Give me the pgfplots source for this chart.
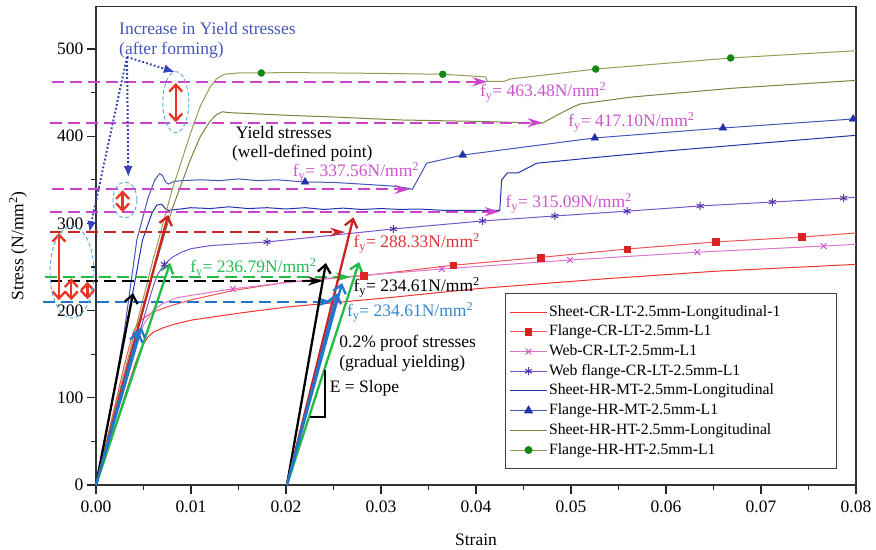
\documentclass[border=0pt]{standalone}
\usepackage{pgfplots}
\pgfplotsset{compat=1.18}
\usepackage{fontspec}
\setmainfont{Liberation Serif}
\usetikzlibrary{arrows.meta}

\definecolor{cSCR}{HTML}{EE3333}
\definecolor{cFCR}{HTML}{EE5555}
\definecolor{mFCR}{HTML}{DD2222}
\definecolor{cWCR}{HTML}{DD77CC}
\definecolor{mWCR}{HTML}{CC55CC}
\definecolor{cWF}{HTML}{7755CC}
\definecolor{mWF}{HTML}{5533AA}
\definecolor{cSMT}{HTML}{2233AA}
\definecolor{cFMT}{HTML}{4455BB}
\definecolor{mFMT}{HTML}{2233AA}
\definecolor{cSHT}{HTML}{808040}
\definecolor{cFHT}{HTML}{999955}
\definecolor{mFHT}{HTML}{118811}
\definecolor{aMag}{HTML}{CC44CC}
\definecolor{tMag}{HTML}{CC55CC}
\definecolor{aRed}{HTML}{CC2222}
\definecolor{tRed}{HTML}{DD3333}
\definecolor{aGrn}{HTML}{22BB44}
\definecolor{tGrn}{HTML}{22BB55}
\definecolor{aBlu}{HTML}{2277CC}
\definecolor{tBlu}{HTML}{3388CC}
\definecolor{aEll}{HTML}{55AADD}
\definecolor{aArr}{HTML}{EE3322}
\definecolor{aDot}{HTML}{3344BB}
\definecolor{aTxt}{HTML}{4455BB}

\newcommand\fa{\fontsize{17.5}{21}\selectfont}
\newcommand\fl{\fontsize{15.7}{18}\selectfont}

\tikzset{
  dashA/.style={line width=2pt, dash pattern=on 12pt off 6pt, -{Stealth[length=15pt,width=9pt,inset=5pt]}},
  arrV/.style={line width=2.3pt, -{Straight Barb[length=8pt,width=13pt]}},
  dbl/.style={aArr, line width=2.3pt, {Straight Barb[length=7pt,width=13pt]}-{Straight Barb[length=7pt,width=13pt]}},
  ell/.style={aEll, line width=0.9pt, dash pattern=on 4pt off 2.5pt},
  dotA/.style={aDot, line width=2pt, dash pattern=on 1.8pt off 2.2pt, -{Latex[length=11pt,width=9pt]}},
  lab/.style={anchor=west, inner sep=0pt, font=\fa},
}

\begin{document}
\begin{tikzpicture}
\begin{axis}[
  name=ax, at={(0pt,0pt)}, anchor=south west,
  scale only axis, width=760pt, height=478.3pt,
  xmin=0, xmax=0.08, ymin=0, ymax=548.5,
  clip=false,
  xtick={0,0.01,0.02,0.03,0.04,0.05,0.06,0.07,0.08},
  ytick={0,100,200,300,400,500},
  minor x tick num=1, minor y tick num=1,
  scaled x ticks=false,
  xticklabel style={yshift=-3pt, /pgf/number format/.cd, fixed, fixed zerofill, precision=2},
  /pgf/number format/assume math mode=true,
  tick label style={font=\fa, black},
  tick align=outside, tick pos=left,
  major tick length=9pt, minor tick length=5pt,
  tick style={line width=1.2pt, black!85},
  axis line style={line width=1.4pt, black!80},
  xlabel={Strain}, ylabel={Stress (N/mm\textsuperscript{2})},
  label style={font=\fa},
  xlabel style={at={(axis description cs:0.5,0)}, anchor=center, yshift=-55pt},
  ylabel style={at={([xshift=-78pt]axis description cs:0,0.5)}, anchor=center},
  legend image code/.code={\draw[mark repeat=2,mark phase=2] plot coordinates {(0pt,0pt)(18.5pt,0pt)(37pt,0pt)};},
  legend style={at={(1,0)}, anchor=south east, xshift=-19pt, yshift=16pt,
    draw=black!75, line width=0.9pt, fill=white, font=\fl,
    inner xsep=4pt, inner ysep=9pt, row sep=0.7pt,
    nodes={inner sep=1.5pt, text height=12pt, text depth=4pt},
    cells={anchor=west}},
]

% Sheet-CR-LT
\addplot[cSCR, line width=1pt] coordinates {
(0,0)(0.0007,22)(0.001,31)(0.002,66)(0.003,101)(0.004,135)(0.0045,150)(0.005,162)(0.0055,170)(0.006,175)(0.007,180)(0.0081,184)(0.010,189)(0.015,197)(0.020,204)(0.025,209)(0.031,215)(0.040,225)(0.053,236)(0.065,245)(0.080,253)};
\addlegendentry{\makebox[282pt][l]{Sheet-CR-LT-2.5mm-Longitudinal-1}}

% Flange-CR-LT
\addplot[cFCR, line width=1pt, forget plot] coordinates {
(0,0)(0.001,45)(0.002,92)(0.003,138)(0.0036,163)(0.004,177)(0.0045,187)(0.0055,195)(0.0064,200)(0.008,206)(0.0099,212)(0.0144,223)(0.0204,233)(0.0282,240)(0.0376,252)(0.0468,261)(0.0559,270.6)(0.0652,278.7)(0.0743,284.4)(0.08,289)};
\addplot[only marks, mark=square*, mark size=3.3pt, color=mFCR,
  legend image code/.code={\draw[cFCR,line width=1pt] (0pt,0pt)--(37pt,0pt); \draw[mFCR] plot[mark=square*, mark size=3.3pt] coordinates {(18.5pt,0pt)};}]
 coordinates {(0.0282,240)(0.0376,252)(0.0468,261)(0.0559,270.6)(0.0652,278.7)(0.0743,284.4)};
\addlegendentry{Flange-CR-LT-2.5mm-L1}

% Web-CR-LT
\addplot[cWCR, line width=1pt, forget plot] coordinates {
(0,0)(0.001,40)(0.002,84)(0.003,124)(0.004,158)(0.005,184)(0.006,200)(0.007,208)(0.0086,215)(0.0144,225)(0.0232,236)(0.0364,247.7)(0.0499,258)(0.0633,267)(0.0766,274)(0.08,276)};
\addplot[only marks, mark=x, mark size=4pt, color=mWCR, line width=1pt,
  legend image code/.code={\draw[cWCR,line width=1pt] (0pt,0pt)--(37pt,0pt); \draw[mWCR,line width=1pt] plot[mark=x, mark size=4pt] coordinates {(18.5pt,0pt)};}]
 coordinates {(0.0144,225)(0.0364,247.7)(0.0499,258)(0.0633,267)(0.0766,274)};
\addlegendentry{Web-CR-LT-2.5mm-L1}

% Web flange-CR-LT
\addplot[cWF, line width=1pt, forget plot] coordinates {
(0,0)(0.001,40)(0.002,80)(0.003,118)(0.004,155)(0.005,190)(0.0058,220)(0.0064,240)(0.0072,253)(0.008,261)(0.009,267)(0.010,271)(0.012,274.5)(0.018,278.7)(0.0313,293.6)(0.0407,302.8)(0.0483,308.5)(0.0559,314)(0.0636,320)(0.0712,324.5)(0.0787,329)(0.08,330)};
\addplot[only marks, mark=asterisk, mark size=4pt, color=mWF, line width=1pt,
  legend image code/.code={\draw[cWF,line width=1pt] (0pt,0pt)--(37pt,0pt); \draw[mWF,line width=1pt] plot[mark=asterisk, mark size=4pt] coordinates {(18.5pt,0pt)};}]
 coordinates {(0.0072,253)(0.018,278.7)(0.0313,293.6)(0.0407,302.8)(0.0483,308.5)(0.0559,314)(0.0636,320)(0.0712,324.5)(0.0787,329)};
\addlegendentry{Web flange-CR-LT-2.5mm-L1}

% Sheet-HR-MT
\addplot[cSMT, line width=1pt] coordinates {
(0,0)(0.001,55)(0.002,113)(0.003,170)(0.004,228)(0.0049,281)(0.0059,312)(0.0064,321)(0.0069,322)(0.0073,317)(0.0076,315)(0.0085,316)(0.010,318)(0.012,317)(0.014,319)(0.016,317)(0.018,318)(0.020,316.5)(0.022,318)(0.024,316)(0.026,317.5)(0.028,316)(0.030,317)(0.032,316)(0.034,316.5)(0.0365,315)(0.0425,315)(0.0427,350)(0.0433,357.8)(0.0444,357.8)(0.0464,369)(0.053,376)(0.060,383)(0.070,392)(0.080,401)};
\addlegendentry{Sheet-HR-MT-2.5mm-Longitudinal}

% Flange-HR-MT
\addplot[cFMT, line width=1pt, forget plot] coordinates {
(0,0)(0.001,55)(0.002,115)(0.003,178)(0.0043,281)(0.0055,330)(0.0062,350)(0.0067,357)(0.0070,355)(0.0073,348)(0.0076,345)(0.0082,348)(0.009,349)(0.011,350)(0.013,349)(0.015,351)(0.017,349)(0.019,350)(0.022,347.5)(0.025,347)(0.028,345)(0.031,343)(0.0327,340.6)(0.0333,339)(0.0348,369)(0.0386,378.4)(0.0525,398)(0.066,409.4)(0.0797,419.7)(0.08,420)};
\addplot[only marks, mark=triangle*, mark size=4.5pt, color=mFMT,
  legend image code/.code={\draw[cFMT,line width=1pt] (0pt,0pt)--(37pt,0pt); \draw[mFMT] plot[mark=triangle*, mark size=4.5pt] coordinates {(18.5pt,0pt)};}]
 coordinates {(0.022,347.5)(0.0386,378.4)(0.0525,398)(0.066,409.4)(0.0797,419.7)};
\addlegendentry{Flange-HR-MT-2.5mm-L1}

% Sheet-HR-HT
\addplot[cSHT, line width=1pt] coordinates {
(0,0)(0.002,84)(0.004,163)(0.006,243)(0.008,316)(0.010,375)(0.011,400)(0.012,417)(0.0127,425)(0.0133,428)(0.014,427)(0.016,426)(0.020,424)(0.025,422)(0.032,418.6)(0.040,417)(0.047,415)(0.0485,424)(0.0502,433.5)(0.051,437)(0.0565,445)(0.067,455)(0.08,464)};
\addlegendentry{Sheet-HR-HT-2.5mm-Longitudinal}

% Flange-HR-HT
\addplot[cFHT, line width=1pt, forget plot] coordinates {
(0,0)(0.002,88)(0.004,172)(0.006,258)(0.008,338)(0.010,405)(0.011,435)(0.012,456)(0.0127,466)(0.0135,471)(0.015,472.5)(0.0174,472.5)(0.020,473)(0.025,472.5)(0.030,472)(0.0365,471)(0.041,468)(0.0412,463)(0.043,463)(0.0436,465.6)(0.0526,477)(0.0668,489.7)(0.08,498)};
\addplot[only marks, mark=*, mark size=3.5pt, color=mFHT,
  legend image code/.code={\draw[cFHT,line width=1pt] (0pt,0pt)--(37pt,0pt); \draw[mFHT] plot[mark=*, mark size=3.5pt] coordinates {(18.5pt,0pt)};}]
 coordinates {(0.0174,472.5)(0.0365,471)(0.0526,477)(0.0668,489.7)};
\addlegendentry{Flange-HR-HT-2.5mm-L1}

% ---- annotations ----
% dashed yield lines
\draw[aMag, dashA] (-0.0046,462.5) -- (0.0412,462.5);
\draw[aMag, dashA] (-0.0048,415.5) -- (0.0470,415.5);
\draw[aMag, dashA] (-0.0046,339) -- (0.0330,339);
\draw[aMag, dashA] (-0.0048,313.5) -- (0.0425,313.5);
\draw[aRed, dashA] (-0.0048,290) -- (0.0262,290);
\draw[aGrn, dashA] (-0.0054,238.5) -- (0.0268,238.5);
\draw[black, dashA] (-0.0048,234) -- (0.0239,234);
\draw[aBlu, dashA] (-0.0056,210) -- (0.0249,210);

% labels
\node[lab, tMag] at (0.0404,450.7) {f\textsubscript{y}= 463.48N/mm\textsuperscript{2}};
\node[lab, tMag] at (0.0497,416) {f\textsubscript{y}= 417.10N/mm\textsuperscript{2}};
\node[lab, tMag] at (0.0207,359) {f\textsubscript{y}= 337.56N/mm\textsuperscript{2}};
\node[lab, tMag] at (0.0431,323.4) {f\textsubscript{y}= 315.09N/mm\textsuperscript{2}};
\node[lab, tRed] at (0.0271,277.5) {f\textsubscript{y}= 288.33N/mm\textsuperscript{2}};
\node[lab, tGrn] at (0.0099,249) {f\textsubscript{y}= 236.79N/mm\textsuperscript{2}};
\node[lab, black] at (0.0271,227) {f\textsubscript{y}= 234.61N/mm\textsuperscript{2}};
\node[lab, tBlu] at (0.0264,198.4) {f\textsubscript{y}= 234.61N/mm\textsuperscript{2}};

% elastic-slope arrows from origin
\draw[arrV, black] (0,0) -- (0.0039,220);
\draw[arrV, aRed] (0,0) -- (0.0076,309.6);
\draw[arrV, aGrn] (0,0) -- (0.0078,254.6);
\draw[arrV, aBlu] (0,0) -- (0.0045,176);
\draw[arrV, aBlu] (0,0) -- (0.0048,181);
% 0.2% offset arrows
\draw[arrV, black] (0.0201,0) -- (0.0242,254.6);
\draw[arrV, aRed] (0.0201,0) -- (0.0271,307);
\draw[arrV, aGrn] (0.0201,0) -- (0.0277,255.7);
\draw[arrV, aBlu] (0.0201,0) -- (0.0254,220);
\draw[arrV, aBlu] (0.0201,0) -- (0.0259,231.6);

% slope triangle
\draw[black, line width=1.2pt] (0.02253,78) -- (0.0241,78) -- (0.0241,132);

% double arrows and ellipses
\draw[dbl] (0.0084,461) -- (0.0084,416);
\draw[dbl] (0.0028,338) -- (0.0028,313);
\draw[dbl] (-0.0039,289) -- (-0.0039,212);
\draw[dbl] (-0.0026,237) -- (-0.0026,212);
\draw[dbl] (-0.0009,233) -- (-0.0009,213);
\draw[ell] (0.0084,439) ellipse [x radius=13pt, y radius=30.5pt];
\draw[ell] (0.00305,326.8) ellipse [x radius=12pt, y radius=18pt];
\draw[ell] (-0.00253,244) ellipse [x radius=22pt, y radius=46pt];

% dotted pointers
\draw[dotA] (0.00326,490.8) -- (0.0083,473.6);
\draw[dotA] (0.00326,490.8) -- (0.0034,353);
\draw[dotA] (0.00326,490.8) -- (-0.0007,290);

% texts
\node[lab, aTxt] at (0.00242,524) {Increase in Yield stresses};
\node[lab, aTxt] at (0.00242,499) {(after forming)};
\node[lab] at (0.0147,404) {Yield stresses};
\node[lab] at (0.0143,381) {(well-defined point)};
\node[lab] at (0.0256,163) {0.2\% proof stresses};
\node[lab] at (0.0256,140) {(gradual yielding)};
\node[lab] at (0.0246,111) {E = Slope};

\end{axis}
\pgfresetboundingbox
\path[use as bounding box] ([shift={(-96pt,-65pt)}]ax.south west) rectangle ([shift={(20pt,6.7pt)}]ax.north east);
\end{tikzpicture}
\end{document}
